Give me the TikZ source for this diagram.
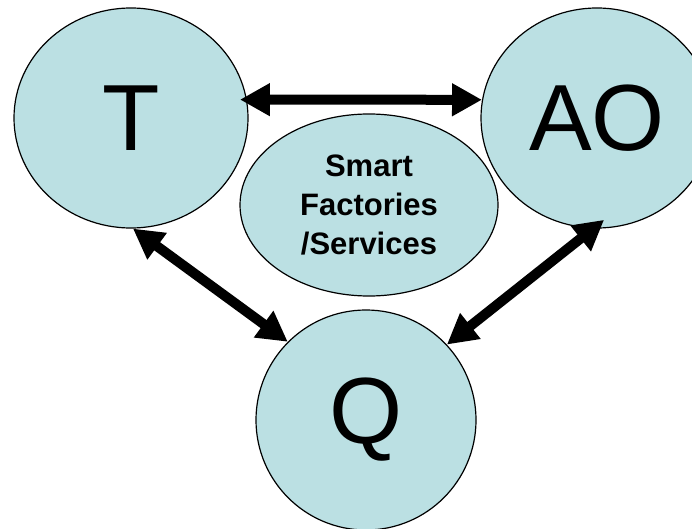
\documentclass[tikz,border=0pt]{standalone}
\usepackage{fontspec}
\setmainfont{Liberation Sans}
\usetikzlibrary{shapes.geometric,arrows.meta}
\definecolor{bubble}{RGB}{187,224,227}
\begin{document}
\begin{tikzpicture}[x=1pt, y=1pt,
        bub/.style = {ellipse, draw, line width = 1.2pt, fill = bubble, inner sep = 0pt},
        link/.style = {line width = 10pt, {Triangle[length=30pt, width=31pt]}-{Triangle[length=30pt, width=31pt]}}]
    \useasboundingbox (0,0) rectangle (692,528);

    \node[bub, minimum width = 234pt, minimum height = 220pt, font = \fontsize{94}{94}\selectfont] (T) at (131,410) {T};
    \node[bub, minimum width = 232pt, minimum height = 220pt, font = \fontsize{94}{94}\selectfont] (AO) at (597,410) {AO};
    \node[bub, minimum width = 220pt, minimum height = 220pt, font = \fontsize{94}{94}\selectfont] (Q) at (366,108) {Q};
    \node[bub, minimum width = 258pt, minimum height = 182pt, align = center, font = \fontsize{31}{39}\selectfont\bfseries] (SF) at (369,323) {Smart\\Factories\\/Services};

    \draw[link, shorten < = -7pt] (T.9) -- (AO.171);
    \draw[link] (T.-89) -- (Q.135);
    \draw[link, shorten < = -14pt] (AO.-92) -- (Q.43);
\end{tikzpicture}
\end{document}
